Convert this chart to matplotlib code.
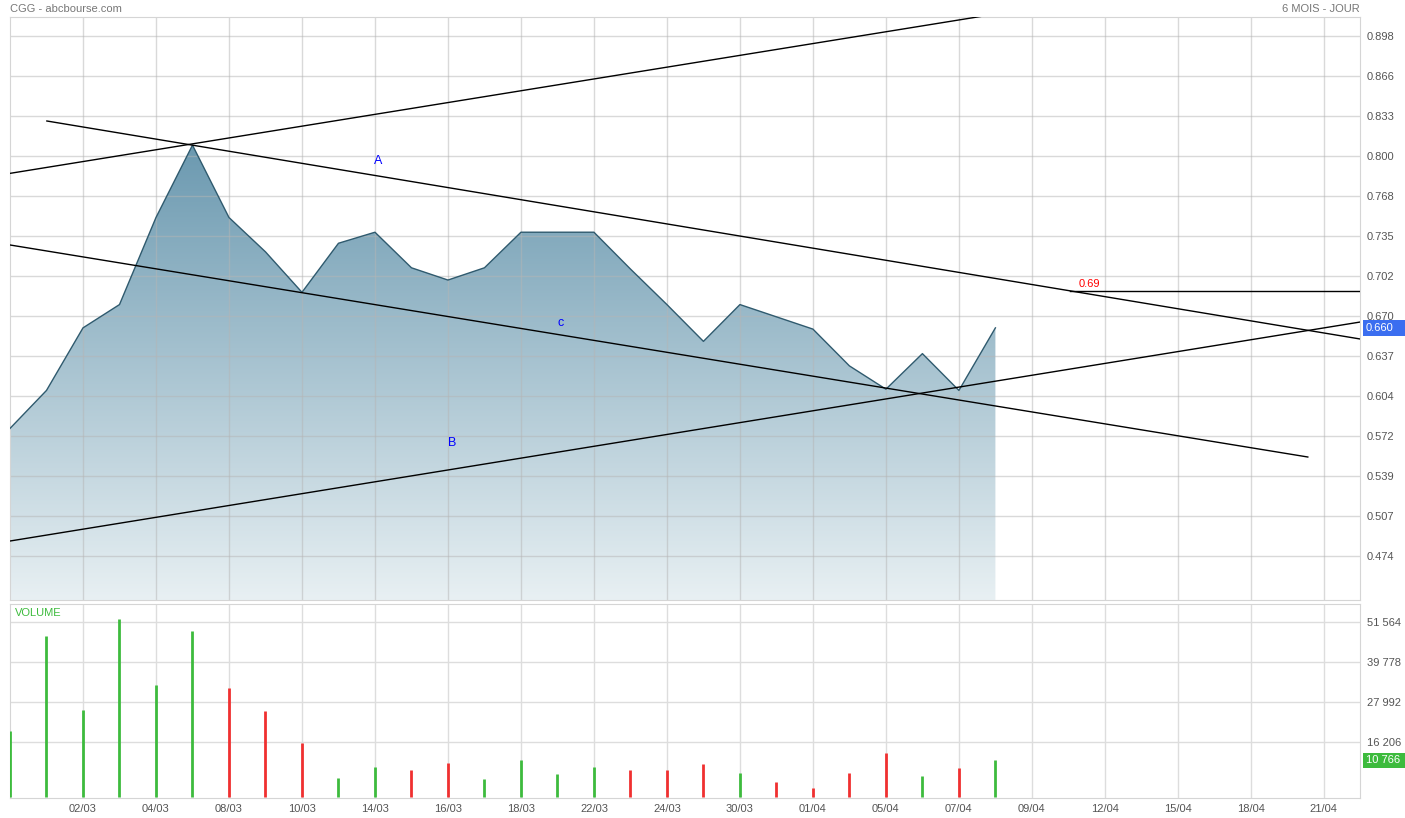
import numpy as np
import matplotlib.pyplot as plt
from matplotlib.patches import Polygon, Rectangle
from matplotlib.colors import LinearSegmentedColormap

plt.rcParams['font.family'] = ['Liberation Sans', 'DejaVu Sans']

# %% data
price = [0.578, 0.609, 0.660, 0.679, 0.750, 0.809, 0.750, 0.722, 0.689, 0.729,
         0.738, 0.709, 0.699, 0.709, 0.738, 0.738, 0.738, 0.708, 0.679, 0.649,
         0.679, 0.669, 0.659, 0.629, 0.610, 0.639, 0.609, 0.660]
volume = [19450, 47440, 25640, 52450, 33000, 48910, 32120, 25340, 15910, 5600,
          8840, 7960, 10020, 5300, 10900, 6780, 8840, 7960, 7960, 9720,
          7070, 4420, 2650, 7070, 12970, 6190, 8550, 10766]
date_labels = ['02/03', '04/03', '08/03', '10/03', '14/03', '16/03', '18/03',
               '22/03', '24/03', '30/03', '01/04', '05/04', '07/04', '09/04',
               '12/04', '15/04', '18/04', '21/04']
date_pos = list(range(2, 37, 2))
price_tick_labels = ['0.474', '0.507', '0.539', '0.572', '0.604', '0.637', '0.670',
                     '0.702', '0.735', '0.768', '0.800', '0.833', '0.866', '0.898']
vol_ticks = [16206, 27992, 39778, 51564]

# trend lines drawn on the chart: (x0, y0, x1, y1) in (day index, price)
line_top = (0, 0.786, 37, 0.964)
line_A = (1.01, 0.8287, 37, 0.6509)
line_c = (0, 0.7276, 35.56, 0.5547)
line_B = (0, 0.4862, 37, 0.6648)
level = 0.69
level_start = 29.04

# %% figure
fig = plt.figure(figsize=(14.05, 8.18), dpi=100)
W, H = 1405, 818
ax = fig.add_axes([10 / W, 1 - 600 / H, 1350 / W, 583 / H])
axv = fig.add_axes([10 / W, 1 - 798 / H, 1350 / W, 194 / H], sharex=ax)

x = np.arange(len(price))
ylo, yhi = 0.4381, 0.9135
p_step = (0.898 - 0.474) / 13
p_ticks = [0.474 + i * p_step for i in range(14)]

# gradient area
cmap = LinearSegmentedColormap.from_list('g', ['#e8f0f3', '#6b99b0'])
grad = np.linspace(0, 1, 256).reshape(-1, 1)
im = ax.imshow(grad, extent=[0, len(price) - 1, ylo, 0.81], origin='lower',
               aspect='auto', cmap=cmap, zorder=0)
verts = list(zip(x, price)) + [(len(price) - 1, ylo), (0, ylo)]
poly = Polygon(verts, closed=True, facecolor='none', edgecolor='none')
ax.add_patch(poly)
im.set_clip_path(poly)
ax.plot(x, price, color='#2f5a6e', lw=1, zorder=3)

for ln in [line_top, line_A, line_c, line_B]:
    ax.plot([ln[0], ln[2]], [ln[1], ln[3]], color='black', lw=1, zorder=4)
ax.plot([level_start, 37], [level, level], color='black', lw=1, zorder=4)
ax.text(level_start + 0.25, level + 0.002, '0.69', color='red', fontsize=8, va='bottom')
ax.text(10.08, 0.796, 'A', color='blue', fontsize=9, ha='center', va='center')
ax.text(15.1, 0.664, 'c', color='blue', fontsize=9, ha='center', va='center')
ax.text(12.11, 0.566, 'B', color='blue', fontsize=9, ha='center', va='center')

ax.set_xlim(0, 36.99)
ax.set_ylim(ylo, yhi)
ax.set_yticks(p_ticks)
ax.set_yticklabels(price_tick_labels)
ax.set_xticks(date_pos)
ax.yaxis.tick_right()
ax.tick_params(axis='both', length=0, labelsize=8, colors='#555555', pad=5)
ax.tick_params(axis='x', labelbottom=False)
ax.set_axisbelow('line')
ax.grid(True, color='#b5b5b5', alpha=0.5, lw=1)

# last price tag
ax.add_patch(Rectangle((1.0022, price[-1] - 0.0065), 0.0312, 0.013,
                       transform=ax.get_yaxis_transform(), fc='#3b6ef0', ec='none',
                       clip_on=False))
ax.text(1.0045, price[-1], '0.660', transform=ax.get_yaxis_transform(), fontsize=8,
        color='white', va='center', ha='left')

# volume
up = [True] + [price[i] >= price[i - 1] for i in range(1, len(price))]
cols = ['#3dbb3d' if u else '#f03030' for u in up]
axv.vlines(x, 0, volume, colors=cols, lw=2, zorder=3)
axv.set_ylim(-295, 56870)
axv.set_yticks(vol_ticks)
axv.set_yticklabels([f'{v:,}'.replace(',', ' ') for v in vol_ticks])
axv.set_xticks(date_pos)
axv.set_xticklabels(date_labels)
axv.yaxis.tick_right()
axv.tick_params(axis='both', length=0, labelsize=8, colors='#555555', pad=5)
axv.tick_params(axis='x', pad=4)
axv.grid(True, color='#dddddd', lw=1)
axv.set_axisbelow(True)
axv.text(0.004, 0.955, 'VOLUME', transform=axv.transAxes, color='#3dbb3d', fontsize=8,
         va='center')
axv.add_patch(Rectangle((1.0022, volume[-1] - 2300), 0.0312, 4600,
                        transform=axv.get_yaxis_transform(), fc='#3dbb3d', ec='none',
                        clip_on=False))
axv.text(1.0045, volume[-1], '10 766', transform=axv.get_yaxis_transform(), fontsize=8,
         color='white', va='center', ha='left')

for a in [ax, axv]:
    for s in a.spines.values():
        s.set_color('#d5d5d5')

fig.text(10 / W, 1 - 9 / H, 'CGG - abcbourse.com', color='#777777', fontsize=8, va='center')
fig.text(1360 / W, 1 - 9 / H, '6 MOIS - JOUR', color='#777777', fontsize=8, va='center',
         ha='right')

fig.savefig('out.png', dpi=100)
